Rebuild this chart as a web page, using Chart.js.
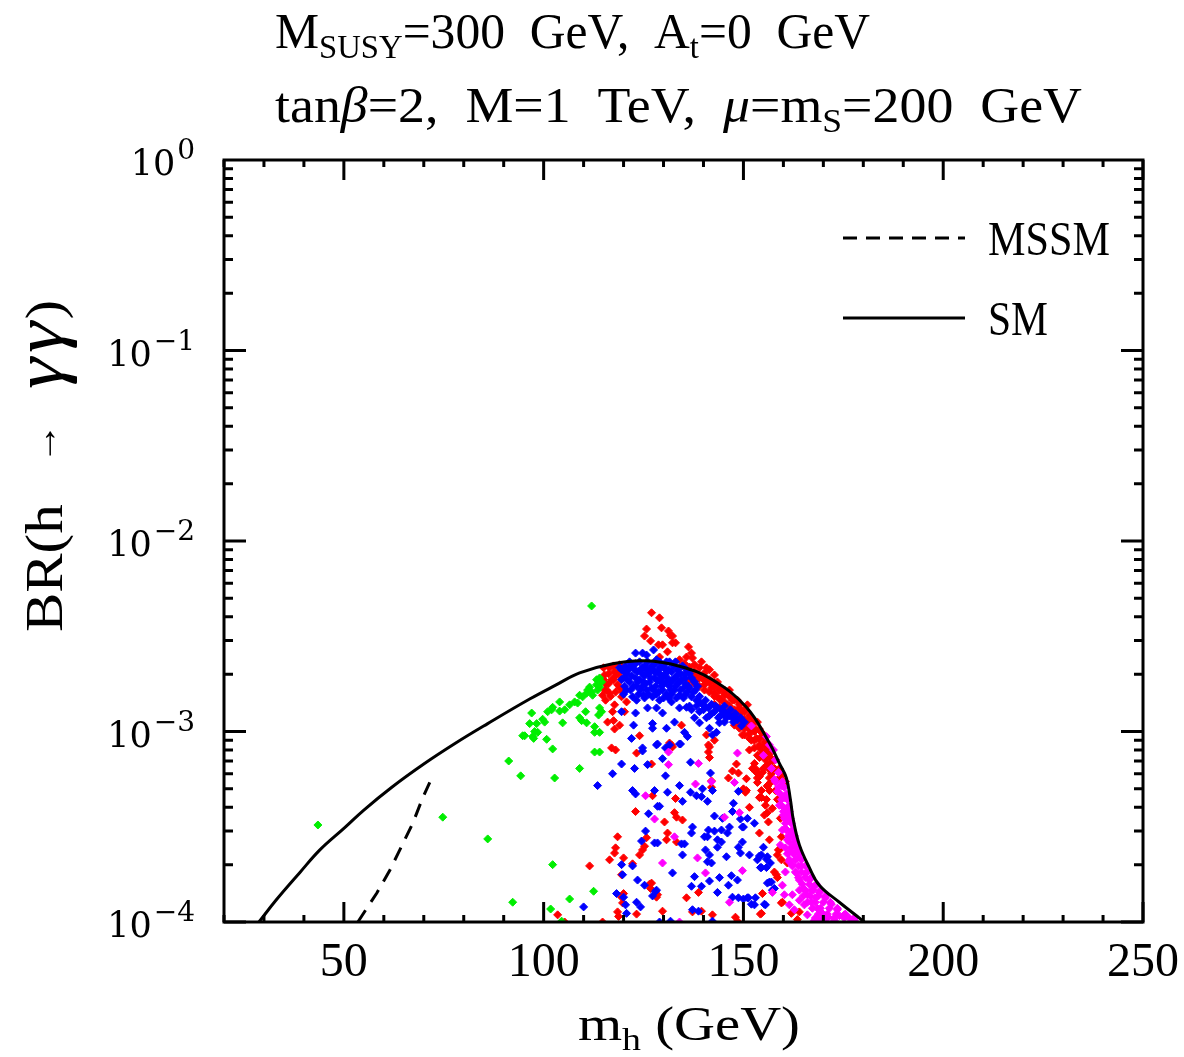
<!DOCTYPE html>
<html>
<head>
<meta charset="utf-8">
<script src="https://cdn.jsdelivr.net/npm/chart.js@4.4.1/dist/chart.umd.min.js"></script>
<style>
  html, body { margin: 0; padding: 0; background: #fff; }
  canvas { display: block; }
</style>
</head>
<body>
<canvas id="grafico" width="1184" height="1057"></canvas>
<script>
// SM curve: m_h (GeV) vs BR(h -> gamma gamma)
const smX = [28.75, 33, 39, 44, 50, 55, 62, 70, 78, 86, 96.5, 103, 109, 117.25, 125.5, 134, 142.25, 150.75, 156.5, 159, 160.75, 161.75, 162.5, 164, 166.5, 169, 174, 179.5, 180.25];
const smY = [1.0e-4, 1.3e-4, 1.82e-4, 2.39e-4, 3.1e-4, 3.87e-4, 5.1e-4, 6.75e-4, 8.7e-4, 1.1e-3, 1.48e-3, 1.75e-3, 2.03e-3, 2.27e-3, 2.35e-3, 2.2e-3, 1.87e-3, 1.34e-3, 8.7e-4, 6.8e-4, 5.7e-4, 4.4e-4, 3.43e-4, 2.54e-4, 1.93e-4, 1.56e-4, 1.27e-4, 1.03e-4, 1.0e-4];

// MSSM curve (dashed)
const mssmX = [53.5, 58.25, 61.5, 64, 67.25, 69.75, 71.5];
const mssmY = [1.0e-4, 1.42e-4, 1.87e-4, 2.39e-4, 3.3e-4, 4.5e-4, 5.4e-4];

// scan points [m_h, BR]
const greenPoints = [
  [43.5,3.23e-4],[74.75,3.55e-4],[86,2.73e-4],[112,4.56e-3],[97,1.25e-3],[95.25,9.5e-4],[96.5,1.1e-3],[98.25,1.1e-3],
  [97.75,1.0e-3],[98.5,9.9e-4],[97.5,9.2e-4],[100.75,9.1e-4],[99.75,1.16e-3],[100.25,1.12e-3],[101,1.27e-3],[102,1.3e-3],
  [102.25,1.34e-3],[104,1.43e-3],[104,1.28e-3],[105.25,1.3e-3],[104.75,1.11e-3],[106.5,1.38e-3],[107.75,1.43e-3],[108.5,1.41e-3],
  [109,1.55e-3],[109.75,1.52e-3],[110.75,1.59e-3],[111,1.65e-3],[112,1.61e-3],[112.25,1.55e-3],[111.5,1.71e-3],[113.25,1.76e-3],
  [113.5,1.65e-3],[114,1.71e-3],[114.5,1.82e-3],[113.25,1.87e-3],[114,1.91e-3],[110.5,1.27e-3],[109,1.18e-3],[109.5,1.14e-3],
  [110.75,1.11e-3],[114,1.33e-3],[114.5,1.27e-3],[113.75,1.22e-3],[112.75,1.06e-3],[112.75,9.9e-4],[114,9.9e-4],[102.25,8.1e-4],
  [112.75,7.8e-4],[114,7.8e-4],[109,6.4e-4],[102.75,5.7e-4],[94.25,5.85e-4],[91.25,7.0e-4],[102.25,2.0e-4],[112.5,1.45e-4],
  [106.5,1.32e-4],[101.75,1.17e-4],[104.5,1.01e-4],[92.25,1.27e-4],[94.75,9.5e-4],[97.25,9.4e-4]
];

const redPoints = [
  [127,4.2e-3],[129,3.95e-3],[129.5,3.5e-3],[125.75,3.45e-3],[125.25,3.17e-3],[126.75,2.99e-3],[131.25,3.37e-3],[131.75,3.2e-3],
  [132.25,3.17e-3],[133,2.92e-3],[132.25,2.92e-3],[129.75,2.85e-3],[128.75,2.85e-3],[131,2.62e-3],[129,2.46e-3],[136.25,2.78e-3],
  [137,2.58e-3],[137.25,2.43e-3],[135.75,2.46e-3],[139.5,2.32e-3],[137.75,2.24e-3],[140.75,2.16e-3],[141.5,2.11e-3],[142.75,1.98e-3],
  [140.25,2.03e-3],[143.5,1.82e-3],[144,1.71e-3],[145.25,1.65e-3],
  [115.25,1.98e-3],[116.5,2.16e-3],[117.75,2.06e-3],[117,1.87e-3],[119,2.24e-3],[118.5,1.76e-3],[115.75,1.65e-3],[119.5,1.91e-3],
  [114.75,1.55e-3],[116.5,1.59e-3],[117.75,1.38e-3],[117.25,1.27e-3],[120.75,1.43e-3],[119.75,1.61e-3],[116,1.12e-3],[117.5,1.14e-3],
  [119,1.08e-3],[117.75,1.03e-3],[120.25,1.27e-3],[115.5,1.78e-3],[118,1.96e-3],
  [115,2.16e-3],[116.25,2.01e-3],[117.5,2.21e-3],[118.75,2.03e-3],[115,1.87e-3],[116.25,1.78e-3],[117.5,1.87e-3],[119,1.69e-3],
  [115.25,1.65e-3],[116.75,1.53e-3],[118,1.61e-3],[119.5,1.52e-3],[115.5,1.46e-3],
  [136.5,2.18e-3],[137.75,2.06e-3],[139,1.98e-3],[140.25,1.91e-3],[139,2.16e-3],[141.5,1.87e-3],[142,1.69e-3],[142.75,1.8e-3],
  [144,1.65e-3],[143.5,1.52e-3],[145.25,1.55e-3],[146,1.38e-3],[146.5,1.65e-3],[147.25,1.46e-3],[147.75,1.27e-3],[148.5,1.46e-3],
  [149,1.33e-3],[149.5,1.18e-3],[150.25,1.27e-3],[151,1.12e-3],[151,1.38e-3],[151.5,1.02e-3],[152,1.18e-3],[152.75,1.04e-3],
  [153.25,9.2e-4],[153.5,1.12e-3],[154,8.5e-4],[154.5,9.9e-4],[154.75,7.8e-4],[155.25,8.8e-4],[155.5,7.1e-4],[156,8.0e-4],
  [156.5,6.3e-4],[156.75,7.3e-4],[157.25,5.6e-4],[157.75,6.4e-4],[158,4.9e-4],[158.5,4.4e-4],[150.25,9.6e-4],[147.75,1.08e-3],
  [145.25,1.22e-3],[149,1.04e-3],[152.75,8.2e-4],[154,7.3e-4],[156.5,5.7e-4],[140.25,1.76e-3],[142.75,1.59e-3],[144.5,1.46e-3],
  [147,1.3e-3],[148.5,1.18e-3],[151.5,9.2e-4],[153.5,7.5e-4],[155,6.4e-4],[156,5.2e-4],[138.25,1.87e-3],[135.25,2.27e-3],[134,2.38e-3],
  [136.5,2.06e-3],[136.5,1.87e-3],[137.75,1.98e-3],[137.75,1.78e-3],[139,1.91e-3],[139,1.73e-3],[140.25,1.85e-3],[140.25,1.65e-3],
  [141.5,1.8e-3],[141.5,1.61e-3],[142.75,1.71e-3],[142.75,1.53e-3],[142.75,1.39e-3],[144,1.65e-3],[144,1.48e-3],[144,1.34e-3],
  [145.25,1.59e-3],[145.25,1.43e-3],[145.25,1.3e-3],[146.5,1.52e-3],[146.5,1.36e-3],[146.5,1.24e-3],[147.75,1.46e-3],[147.75,1.3e-3],
  [147.75,1.16e-3],[149,1.38e-3],[149,1.24e-3],[149,1.11e-3],[150.25,1.3e-3],[150.25,1.16e-3],[150.25,1.04e-3],[151.5,1.21e-3],
  [151.5,1.08e-3],[151.5,9.7e-4],[152.75,1.12e-3],[152.75,1.0e-3],[152.75,9.0e-4],[154,1.03e-3],[154,9.2e-4],[154,8.2e-4],
  [155.25,9.4e-4],[155.25,8.4e-4],[155.25,7.4e-4],[156,8.6e-4],[156,7.6e-4],[156,6.7e-4],[157,7.8e-4],[157,6.9e-4],
  [157,6.0e-4],[158,7.1e-4],[158,6.3e-4],[158,5.45e-4],[159,6.4e-4],[159,5.7e-4],[159.75,5.9e-4],[159.75,5.2e-4],[160.5,5.45e-4],
  [117,8.2e-4],[118,8.0e-4],[127,6.75e-4],[123,3.8e-4],[127.25,4.6e-4],[118.5,2.8e-4],[118,2.45e-4],[117.75,2.3e-4],
  [116.5,2.12e-4],[120,2.17e-4],[125.75,2.77e-4],[125.25,2.5e-4],[124.75,2.39e-4],[124,2.25e-4],[122.25,2.02e-4],[111.5,1.97e-4],
  [119.5,1.77e-4],[126.5,1.58e-4],[126.75,1.5e-4],[120,1.41e-4],[119.5,1.35e-4],[119.75,1.26e-4],[118.5,1.13e-4],[118.75,1.07e-4],
  [123.25,1.1e-4],[103.5,1.09e-4],[105.25,1.0e-4],[114.75,1.0e-4],[128.25,1.35e-4],
  [132,8.5e-4],[132.25,8.3e-4],[141.25,8.5e-4],[141.25,7.8e-4],[142.75,9.0e-4],[151.5,8.0e-4],[141.5,7.3e-4],[147.25,6.2e-4],
  [148.75,6.05e-4],[148.25,6.75e-4],[146.25,5.7e-4],[142,5.5e-4],[142,5.1e-4],[150.75,5.65e-4],[150,5.0e-4],[152.25,6.4e-4],
  [153.25,6.1e-4],[154,5.8e-4],[153.5,5.4e-4],[154.5,4.9e-4],[156,5.15e-4],[133,4.45e-4],[132.75,3.75e-4],[133.25,3.55e-4],
  [134.75,3.43e-4],[130.25,3.35e-4],[150.5,4.8e-4],[151.5,4.0e-4],[154,4.5e-4],[155.5,4.1e-4],[156,3.75e-4],[155.25,3.64e-4],
  [156.25,3.35e-4],[131,2.93e-4],[130.75,2.7e-4],[133.25,2.63e-4],[154,2.93e-4],[159.25,3.5e-4],[156.5,2.7e-4],[158.75,2.39e-4],
  [158.5,2.25e-4],[159.5,2.12e-4],[157.75,1.83e-4],[158.25,1.77e-4],[158.5,1.71e-4],[127,1.6e-4],[128.5,1.39e-4],[138.75,1.43e-4],
  [135.75,1.34e-4],[154.75,1.41e-4],[159.5,1.26e-4],[129.75,1.14e-4],[139.5,1.14e-4],[137.25,1.13e-4],[142.25,1.09e-4],[148,1.06e-4],
  [148.5,1.01e-4],[154.25,1.1e-4],
  [150.75,1.08e-3],[149.75,9.6e-4],[152,9.0e-4],[152.75,6.8e-4],[154.75,6.1e-4],[153.25,6.3e-4],[157,5.45e-4],[153.5,5.7e-4],
  [150.75,4.9e-4],[154.5,4.5e-4],[155.75,4.4e-4],[156.5,4.9e-4],[157.25,3.95e-4],[159.5,2.8e-4],[159,2.39e-4],[161,2.04e-4],
  [159.75,1.27e-4],[154.5,1.11e-4],[162,1.11e-4],[164,1.13e-4],[163.5,1.03e-4],
  [124,9.5e-4],[123.25,7.7e-4],[131.5,8.7e-4],[134.5,1.08e-3],[140.75,9.6e-4],[141.5,8.3e-4]
];

const bluePoints = [
  [120.25,2.06e-3],[121,1.87e-3],[121.5,2.16e-3],[122,1.96e-3],[122.5,1.73e-3],[123,2.27e-3],[123.5,2.06e-3],[124,1.87e-3],
  [124.25,1.65e-3],[124.75,2.16e-3],[125.25,1.96e-3],[125.5,1.78e-3],[126,2.32e-3],[126.5,2.11e-3],[126.75,1.91e-3],[127,1.69e-3],
  [127.75,2.24e-3],[128,2.03e-3],[128.5,1.85e-3],[128.75,1.61e-3],[129.25,2.18e-3],[129.5,1.96e-3],[130,1.78e-3],[130.5,2.11e-3],
  [130.75,1.57e-3],[131,1.91e-3],[131.5,1.73e-3],[132,2.06e-3],[132.25,1.87e-3],[132.75,1.65e-3],[133.25,1.96e-3],[133.5,1.78e-3],
  [134,1.55e-3],[134.5,1.87e-3],[135,1.69e-3],[135.5,1.78e-3],[136,1.61e-3],[136.5,1.69e-3],[137,1.52e-3],[137.5,1.61e-3],
  [138.25,1.46e-3],[139,1.53e-3],[139.75,1.39e-3],[140.5,1.46e-3],[141.25,1.33e-3],[142,1.39e-3],[142.75,1.27e-3],[143.5,1.33e-3],
  [144.25,1.21e-3],[145,1.27e-3],[145.75,1.18e-3],[146.5,1.21e-3],[147.5,1.12e-3],[148.5,1.15e-3],[149.5,1.07e-3],[120.75,1.65e-3],
  [122.25,1.52e-3],[123.25,1.46e-3],[125,1.55e-3],[127.25,1.52e-3],[129,1.46e-3],[119,2.16e-3],[119.5,1.87e-3],[125.75,2.52e-3],
  [128.25,2.38e-3],[130.75,2.32e-3],[134,2.16e-3],[135.25,2.0e-3],[130,1.5e-3],[132,1.43e-3],[136.5,1.36e-3],[139,1.27e-3],[141.5,1.21e-3],
  [121.5,2.32e-3],[124,2.32e-3],[129,2.32e-3],[131.5,2.32e-3],[133,2.32e-3],
  [120.5,2.21e-3],[122.25,2.21e-3],[125.25,2.21e-3],[127,2.21e-3],[130,2.21e-3],[132.5,2.21e-3],[134.75,2.21e-3],
  [119.5,2.11e-3],[121.25,2.11e-3],[122.75,2.11e-3],[124.25,2.11e-3],[125.75,2.11e-3],[127.25,2.11e-3],[128.75,2.11e-3],[131.25,2.11e-3],
  [133.5,2.11e-3],[135.75,2.11e-3],
  [120.75,2.01e-3],[124.75,2.01e-3],[126.25,2.01e-3],[129,2.01e-3],[130.5,2.01e-3],[134.25,2.01e-3],[136.5,2.01e-3],
  [120,1.91e-3],[123,1.91e-3],[127.75,1.91e-3],[129.75,1.91e-3],[133,1.91e-3],[135.5,1.91e-3],[137,1.91e-3],
  [121.5,1.82e-3],[123.5,1.82e-3],[125,1.82e-3],[126.5,1.82e-3],[129.25,1.82e-3],[130.75,1.82e-3],[132,1.82e-3],[134,1.82e-3],[137.75,1.82e-3],
  [120.25,1.73e-3],[123.25,1.73e-3],[124.75,1.73e-3],[128,1.73e-3],[129.5,1.73e-3],[133,1.73e-3],[136.25,1.73e-3],[138.5,1.73e-3],
  [121.75,1.65e-3],[125.75,1.65e-3],[127.5,1.65e-3],[129.75,1.65e-3],[131.75,1.65e-3],[134.25,1.65e-3],[138,1.65e-3],
  [120,1.57e-3],[123.75,1.57e-3],[126.25,1.57e-3],[128.25,1.57e-3],[132,1.57e-3],[135.5,1.57e-3],
  [125.25,1.5e-3],[131.25,1.5e-3],[133.25,1.5e-3],[135,1.5e-3],
  [139,1.43e-3],[138.25,1.36e-3],[140.25,1.36e-3],[143,1.36e-3],[145.25,1.36e-3],
  [140,1.3e-3],[144.5,1.3e-3],[146.75,1.3e-3],[142,1.24e-3],[145.75,1.24e-3],[148,1.24e-3],
  [143.75,1.18e-3],[147.25,1.18e-3],[149.25,1.18e-3],[145.25,1.12e-3],[150.25,1.12e-3],
  [123,2.58e-3],[124.75,2.58e-3],[127.5,2.68e-3],
  [126,1.33e-3],[128.25,1.33e-3],[129.75,1.25e-3],[122.5,1.08e-3],[127.25,1.1e-3],[127.25,1.04e-3],[130.75,1.04e-3],[132.75,1.12e-3],
  [134,1.33e-3],[135.75,1.34e-3],[137,1.3e-3],[137.75,1.18e-3],[139,1.11e-3],[140.75,1.18e-3],[141.5,1.04e-3],[135.25,9.9e-4],
  [136,9.4e-4],[142.25,9.6e-4],[143.25,9.9e-4],[144,1.11e-3],[131.5,8.5e-4],[134,8.6e-4],[128.5,8.6e-4],[124.75,8.2e-4],
  [122,9.2e-4],[123,1.25e-3],[119.5,1.27e-3],
  [124.75,7.9e-4],[119.5,6.75e-4],[122.75,6.4e-4],[126,6.7e-4],[117.25,6.0e-4],[113.5,5.2e-4],[122.25,4.9e-4],[123,4.7e-4],
  [127.75,4.9e-4],[128.5,4.05e-4],[126.25,3.7e-4],[125.5,3.0e-4],[124.5,2.66e-4],[127.75,2.6e-4],[128.5,2.6e-4],[119.5,2.0e-4],
  [122.25,1.97e-4],[119.75,1.77e-4],[123.5,1.66e-4],[125.25,1.56e-4],[128,1.45e-4],[118.25,1.41e-4],[120,1.35e-4],[127.25,1.37e-4],
  [120.5,1.23e-4],[123.25,1.27e-4],[124.25,1.2e-4],[110,1.2e-4],[120.75,1.11e-4],
  [128.25,8.5e-4],[130.5,8.2e-4],[134.25,8.6e-4],[129.75,7.2e-4],[130.5,5.85e-4],[136.75,6.9e-4],[141.75,6.05e-4],[142.25,4.9e-4],
  [134,5.2e-4],[131,4.8e-4],[136.75,4.8e-4],[138.25,4.6e-4],[139.5,4.55e-4],[139.75,5.0e-4],[141,4.3e-4],[134.75,4.3e-4],
  [148.75,4.85e-4],[147.5,4.2e-4],[129,4.05e-4],[147.25,3.8e-4],[144.75,3.5e-4],[149.25,3.47e-4],[151,3.5e-4],[142.75,3.6e-4],
  [137.25,3.15e-4],[141.25,3.04e-4],[142.75,3.0e-4],[144.5,3.04e-4],[146.5,3.15e-4],[146,2.93e-4],[150,3.15e-4],[152.75,3.3e-4],
  [137,2.93e-4],[140.25,2.8e-4],[141,2.8e-4],[143.5,2.7e-4],[144.5,2.63e-4],[149.75,2.63e-4],[148.75,2.47e-4],[149.25,2.3e-4],
  [143.5,2.47e-4],[134.5,2.57e-4],[135.25,2.57e-4],[140.5,2.39e-4],[141.5,2.25e-4],[145.75,2.2e-4],[151.5,2.25e-4],[153.5,2.12e-4],
  [155,2.47e-4],[154.5,2.25e-4],[156,2.2e-4],[141,2.07e-4],[142,2.04e-4],[134.75,2.25e-4],[154.25,1.93e-4],[155.75,1.93e-4],
  [132.25,1.81e-4],[137.75,1.73e-4],[144,1.71e-4],[147,1.75e-4],[148.5,1.66e-4],[141.5,1.64e-4],[139.5,1.54e-4],[137,1.54e-4],
  [146.25,1.56e-4],[156,1.6e-4],[157,1.62e-4],[157.75,1.5e-4],[128.25,1.47e-4],[143.5,1.43e-4],[147.25,1.35e-4],[148.75,1.34e-4],
  [150,1.32e-4],[152,1.24e-4],[151.25,1.34e-4],[153,1.34e-4],[155.5,1.23e-4],[137.25,1.16e-4],[138.75,1.14e-4],[129,1.0e-4],
  [142.25,1.01e-4],[131.75,1.01e-4],
  [149.75,3.15e-4],[154,2.22e-4],[155.75,2.14e-4],[156.75,2.04e-4],[154.5,1.93e-4],[156.5,1.62e-4],[157.25,1.47e-4],[151,1.34e-4],
  [155.25,1.24e-4],[152.75,1.23e-4]
];

const magentaPoints = [
  [158,7.1e-4],[157,6.4e-4],[158.75,6.1e-4],[157.75,5.6e-4],[159.5,5.2e-4],[158.5,4.85e-4],[160.25,4.5e-4],[159,4.1e-4],
  [161,3.95e-4],[160,3.64e-4],[161.5,3.43e-4],[160.5,3.1e-4],[162,2.97e-4],[161,2.7e-4],[162.75,2.54e-4],[161.5,2.33e-4],
  [163.5,2.17e-4],[162.25,2.0e-4],[164.5,1.97e-4],[163.25,1.81e-4],[165.5,1.79e-4],[164,1.66e-4],[166.5,1.66e-4],[165,1.5e-4],
  [167.75,1.54e-4],[166,1.39e-4],[169,1.43e-4],[167,1.27e-4],[170.5,1.34e-4],[168.5,1.18e-4],[172,1.24e-4],[169.75,1.11e-4],
  [173.5,1.16e-4],[171.25,1.06e-4],[175.25,1.09e-4],[172.75,1.02e-4],[176.5,1.05e-4],[164,1.3e-4],[166,1.09e-4],[167.75,1.02e-4],
  [162.75,1.16e-4],[161.5,1.23e-4],[160.25,1.39e-4],[159.75,1.56e-4],[162.25,1.39e-4],[164,1.47e-4],[165.25,1.23e-4],[169,1.03e-4],
  [170.5,1.03e-4],[155.75,9.4e-4],[156.5,8.5e-4],[155,7.5e-4],[157.5,8.0e-4],[152,1.07e-3],
  [162.5,2.77e-4],[163,2.33e-4],[161.5,2.07e-4],[160.5,1.83e-4],[159.25,2.54e-4],[159.75,3.04e-4],[160.75,3.64e-4],[167,1.47e-4],
  [168,1.34e-4],[174,1.08e-4],[177.75,1.02e-4],
  [159.75,5.45e-4],[158,5.45e-4],[160.25,5.1e-4],[158.75,5.1e-4],[160.75,4.7e-4],[159.25,4.7e-4],[161,4.4e-4],[159.5,4.4e-4],
  [161.25,4.05e-4],[159.75,4.05e-4],[161.5,3.8e-4],[160,3.8e-4],[161.75,3.5e-4],[160.25,3.5e-4],[162,3.3e-4],[160.5,3.3e-4],
  [162.25,3.04e-4],[160.75,3.04e-4],[162.75,2.83e-4],[161.25,2.83e-4],[163,2.63e-4],[161.5,2.63e-4],
  [163.5,2.45e-4],[162,2.45e-4],[160.5,2.45e-4],[164,2.28e-4],[162.5,2.28e-4],[161,2.28e-4],
  [164.5,2.12e-4],[163,2.12e-4],[161.5,2.12e-4],[165.5,1.97e-4],[163.75,1.97e-4],[162.25,1.97e-4],
  [166,1.83e-4],[164.5,1.83e-4],[163,1.83e-4],[167,1.71e-4],[165.5,1.71e-4],[163.75,1.71e-4],
  [168.25,1.58e-4],[166.5,1.58e-4],[164.75,1.58e-4],[169.25,1.47e-4],[167.5,1.47e-4],[165.5,1.47e-4],
  [170.5,1.37e-4],[168.75,1.37e-4],[166.75,1.37e-4],[165,1.37e-4],[171.75,1.27e-4],[170,1.27e-4],[168,1.27e-4],[166,1.27e-4],
  [173.5,1.18e-4],[171.5,1.18e-4],[169.25,1.18e-4],[167.25,1.18e-4],[175.5,1.1e-4],[173.25,1.1e-4],[171,1.1e-4],[168.75,1.1e-4],
  [177.75,1.05e-4],[175.25,1.05e-4],[172.75,1.05e-4],[170.25,1.05e-4],[168,1.05e-4],
  [131.25,7.8e-4],[131.25,6.7e-4],[138.75,6.8e-4],[138,5.3e-4],[142,5.45e-4],[147.75,5.4e-4],[148.5,7.7e-4],[149,3.75e-4],
  [127.75,3.47e-4],[145.25,3.55e-4],[132.75,2.8e-4],[129.75,2.04e-4],[138.5,2.17e-4],[149.75,1.86e-4],[140.5,1.81e-4],[146.5,1.27e-4],
  [134,1.0e-4],[157.25,1.43e-4],[125.5,4.6e-4]
];

// axes
const xMin = 20, xMax = 250;
const xTickLabels = [50, 100, 150, 200, 250];
const xMinorStep = 10;
const yMin = 1e-4, yMax = 1;
const yDecades = [0, -1, -2, -3, -4];

const serif = '"Liberation Serif", "DejaVu Serif", serif';
const yTickFont = '"DejaVu Serif", serif';

// texto com sub-indices; ajusta a largura quando pedido
function textoRico(ctx, partes, x, y, tamanho, largura, alinhar) {
  ctx.save();
  const px = (p) => Math.round(tamanho * (p.sub ? 0.66 : (p.k || 1)));
  const fonte = (p) => (p.it ? 'italic ' : '') + px(p) + 'px ' + serif;
  let w = 0;
  partes.forEach((p) => { ctx.font = fonte(p); w += ctx.measureText(p.t).width + (p.dx || 0); });
  const sx = largura ? largura / w : 1;
  const x0 = alinhar === 'center' ? x - (w * sx) / 2 : x;
  ctx.translate(x0, y);
  ctx.scale(sx, 1);
  ctx.textAlign = 'left';
  ctx.textBaseline = 'alphabetic';
  ctx.fillStyle = '#000';
  let cx = 0;
  partes.forEach((p) => {
    ctx.font = fonte(p);
    ctx.fillText(p.t, cx, (p.sub ? tamanho * 0.2 : 0) - (p.up || 0));
    cx += ctx.measureText(p.t).width + (p.dx || 0);
  });
  ctx.restore();
}

const moldura = {
  id: 'moldura',
  afterDatasetsDraw(chart) {
    const { ctx, chartArea: a, scales: { x, y } } = chart;
    ctx.save();
    ctx.strokeStyle = '#000';
    ctx.lineWidth = 3;
    ctx.strokeRect(a.left, a.top, a.right - a.left, a.bottom - a.top);

    // marcas do eixo x (dentro, em baixo e em cima)
    ctx.beginPath();
    for (let v = xMin; v <= xMax; v += xMinorStep) {
      const px = x.getPixelForValue(v);
      const len = v % 50 === 0 ? 20 : 7;
      ctx.moveTo(px, a.bottom); ctx.lineTo(px, a.bottom - len);
      ctx.moveTo(px, a.top); ctx.lineTo(px, a.top + len);
    }
    // marcas do eixo y (log)
    for (let e = -4; e < 0; e++) {
      for (let m = 1; m <= 9; m++) {
        const py = y.getPixelForValue(m * Math.pow(10, e));
        const len = m === 1 ? 22 : 9;
        ctx.moveTo(a.left, py); ctx.lineTo(a.left + len, py);
        ctx.moveTo(a.right, py); ctx.lineTo(a.right - len, py);
      }
    }
    ctx.stroke();

    // rotulos x
    ctx.fillStyle = '#000';
    ctx.font = '48px ' + serif;
    ctx.textAlign = 'center';
    ctx.textBaseline = 'alphabetic';
    xTickLabels.forEach((v) => ctx.fillText(String(v), x.getPixelForValue(v), 976));

    // rotulos y: 10^n
    yDecades.forEach((e) => {
      const py = y.getPixelForValue(Math.pow(10, e));
      const exp = e === 0 ? '0' : '\u2212' + Math.abs(e);
      ctx.textAlign = 'right';
      ctx.font = '28px ' + yTickFont;
      const wExp = ctx.measureText(exp).width;
      ctx.fillText(exp, 195, py - 1);
      ctx.font = '35px ' + yTickFont;
      ctx.fillText('10', 195 - wExp - 2, py + 15);
    });

    // titulos dos eixos
    textoRico(ctx, [{ t: 'm' }, { t: 'h', sub: true }, { t: ' (GeV)' }], 689, 1040, 48, 222, 'center');
    ctx.save();
    ctx.translate(62, 466);
    ctx.rotate(-Math.PI / 2);
    textoRico(ctx, [
      { t: 'BR(h', dx: 36 },
      { t: '\u2192', k: 0.7, up: 6, dx: 30 },
      { t: '\u03b3', it: true, k: 1.35, dx: 4 },
      { t: '\u03b3', it: true, k: 1.35, dx: 2 },
      { t: ')' }
    ], 0, 0, 52, 332, 'center');
    ctx.restore();

    // parametros no topo
    textoRico(ctx, [{ t: 'M' }, { t: 'SUSY', sub: true }, { t: '=300  GeV,  A' }, { t: 't', sub: true }, { t: '=0  GeV' }], 275, 48, 50, 595);
    textoRico(ctx, [{ t: 'tan' }, { t: '\u03b2', it: true }, { t: '=2,  M=1  TeV,  ' }, { t: '\u03bc', it: true }, { t: '=m' }, { t: 'S', sub: true }, { t: '=200  GeV' }], 275, 122, 50, 807);

    // legenda
    ctx.lineWidth = 3;
    ctx.setLineDash([14, 9]);
    ctx.beginPath(); ctx.moveTo(843, 238); ctx.lineTo(965, 238); ctx.stroke();
    ctx.setLineDash([]);
    ctx.beginPath(); ctx.moveTo(843, 318); ctx.lineTo(965, 318); ctx.stroke();
    textoRico(ctx, [{ t: 'MSSM' }], 988, 255, 48, 122);
    textoRico(ctx, [{ t: 'SM' }], 988, 335, 48, 60);
    ctx.restore();
  }
};

const pontos = (lista) => lista.map(([mx, br]) => ({ x: mx, y: br }));
const nuvem = (lista, cor) => ({
  data: pontos(lista),
  backgroundColor: cor,
  borderColor: cor,
  borderWidth: 1,
  pointStyle: 'rectRot',
  pointRadius: 4,
  clip: 0
});

new Chart(document.getElementById('grafico'), {
  type: 'scatter',
  data: {
    datasets: [
      {
        data: smX.map((v, i) => ({ x: v, y: smY[i] })),
        showLine: true, borderColor: '#000', borderWidth: 3, pointRadius: 0,
        tension: 0.4, clip: 0
      },
      {
        data: mssmX.map((v, i) => ({ x: v, y: mssmY[i] })),
        showLine: true, borderColor: '#000', borderWidth: 3, pointRadius: 0,
        borderDash: [14, 10], clip: 0
      },
      nuvem(greenPoints, '#00ee00'),
      nuvem(magentaPoints, '#ff00ff'),
      nuvem(bluePoints, '#0000ff'),
      nuvem(redPoints, '#ff0000')
    ]
  },
  options: {
    responsive: false,
    animation: false,
    devicePixelRatio: 1,
    layout: { padding: { left: 224, top: 160, right: 41, bottom: 135 } },
    scales: {
      x: { type: 'linear', min: xMin, max: xMax, display: false },
      y: { type: 'logarithmic', min: yMin, max: yMax, display: false }
    },
    plugins: { legend: { display: false }, tooltip: { enabled: false } }
  },
  plugins: [moldura]
});
</script>
</body>
</html>
